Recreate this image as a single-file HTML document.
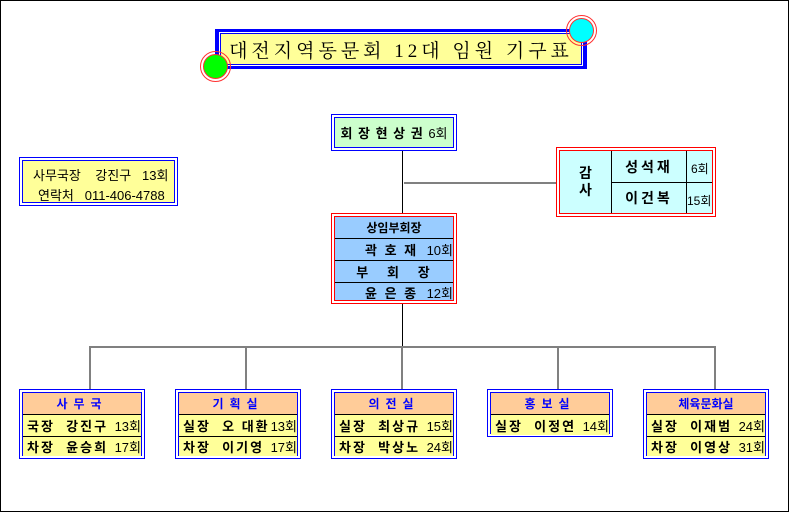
<!DOCTYPE html>
<html><head><meta charset="utf-8"><style>
*{margin:0;padding:0;box-sizing:border-box}
body{width:789px;height:512px;background:#fff;position:relative;overflow:hidden;font-family:"Liberation Sans","Noto Sans CJK KR","NanumGothic",sans-serif;color:#000}
.a{position:absolute}
.frame{left:0;top:0;width:789px;height:512px;border:1px solid #000}
.dbl{position:absolute;border:1px solid;padding:2px}
.dbl>.in{border:1px solid;width:100%;height:100%;position:relative}
.ln{position:absolute;background:#000}
.gl{position:absolute;background:#808080}
.row{position:absolute;left:0;right:0;display:flex;align-items:center;font-size:13px;font-weight:bold;white-space:nowrap;letter-spacing:2px}
.hd{background:#ffcc99;color:#0000ff;justify-content:center;letter-spacing:6px;font-size:12px}
.y{background:#ffff99;border-top:1px solid #000;padding-left:4px}
.n{font-weight:normal;font-size:13px;margin-left:auto;letter-spacing:0}
.circ{position:absolute;border-radius:50%;border:1px solid #ff3030;padding:2px}
.circ>div{width:100%;height:100%;border-radius:50%;border:1px solid #ff3030}
</style></head><body>
<div class="a frame"></div>

<div class="a" style="left:215px;top:29px;width:372px;height:40px;background:#0000ff;"></div>
<div class="a" style="left:219px;top:32px;width:364px;height:34px;background:#fff;"></div>
<div class="a" style="left:220px;top:33px;width:362px;height:32px;background:#ffff99;border:1px solid #0000ff;display:flex;align-items:center;justify-content:center;font-size:19px;letter-spacing:4px;font-family:'Liberation Serif','Noto Serif CJK SC','Noto Sans CJK KR',serif">대전지역동문회 12대 임원 기구표</div>
<div class="circ" style="left:200px;top:51px;width:31px;height:31px"><div style="background:#00ff00"></div></div>
<div class="circ" style="left:566px;top:15px;width:31px;height:31px"><div style="background:#00ffff"></div></div>

<div class="dbl" style="left:19px;top:157px;width:159px;height:49px;border-color:#0000ff">
<div class="in" style="border-color:#0000ff;background:#ffff99;font-size:13px">
<div class="a" style="left:10px;top:4px;white-space:nowrap">사무국장&nbsp;&nbsp;&nbsp;&nbsp;강진구&nbsp;&nbsp;&nbsp;13회</div>
<div class="a" style="left:15px;top:24px;white-space:nowrap">연락처&nbsp;&nbsp;&nbsp;011-406-4788</div>
</div></div>

<div class="ln" style="left:402px;top:150px;width:1px;height:64px"></div>
<div class="gl" style="left:404px;top:182px;width:152px;height:2px"></div>
<div class="ln" style="left:402px;top:304px;width:1px;height:43px"></div>
<div class="gl" style="left:89px;top:346px;width:627px;height:2px"></div>
<div class="gl" style="left:89px;top:346px;width:2px;height:44px"></div>
<div class="gl" style="left:245px;top:346px;width:2px;height:44px"></div>
<div class="gl" style="left:401px;top:346px;width:2px;height:44px"></div>
<div class="gl" style="left:557px;top:346px;width:2px;height:44px"></div>
<div class="gl" style="left:714px;top:346px;width:2px;height:44px"></div>

<div class="dbl" style="left:331px;top:114px;width:126px;height:37px;border-color:#0000ff">
<div class="in" style="border-color:#0000ff;background:#ccffcc;display:flex;align-items:center;justify-content:center;font-size:13px;font-weight:bold;white-space:nowrap;letter-spacing:1px">회&nbsp;장&nbsp;현&nbsp;상&nbsp;권&nbsp;<span style="font-weight:normal;font-size:13px;letter-spacing:0">6회</span></div></div>

<div class="dbl" style="left:556px;top:147px;width:160px;height:70px;border-color:#ff0000">
<div class="in" style="border-color:#ff0000;background:#ccffff;font-size:14px;font-weight:bold">
<div class="a" style="left:0;top:0;width:51px;height:62px;display:flex;align-items:center;justify-content:center;text-align:center;line-height:17px">감<br>사</div>
<div class="ln" style="left:51px;top:0;width:1px;height:62px"></div>
<div class="ln" style="left:126px;top:0;width:1px;height:62px"></div>
<div class="ln" style="left:52px;top:31px;width:100px;height:1px"></div>
<div class="a" style="left:52px;top:0;width:74px;height:31px;display:flex;align-items:center;justify-content:center;letter-spacing:3px">성석재</div>
<div class="a" style="left:52px;top:32px;width:74px;height:30px;display:flex;align-items:center;justify-content:center;letter-spacing:3px">이건복</div>
<div class="a" style="left:131px;top:9px;font-size:12px;font-weight:normal;white-space:nowrap">6회</div>
<div class="a" style="left:127px;top:41px;font-size:12px;font-weight:normal;white-space:nowrap">15회</div>
</div></div>

<div class="dbl" style="left:331px;top:213px;width:126px;height:91px;border-color:#ff0000">
<div class="in" style="border-color:#ff0000;background:#99ccff">
<div class="row" style="top:0;height:21px;justify-content:center;font-size:12px;letter-spacing:0">상임부회장</div>
<div class="row" style="top:21px;height:22px;border-top:1px solid #000;padding-left:30px">곽&nbsp;호&nbsp;재<span class="n">10회</span></div>
<div class="row" style="top:43px;height:22px;border-top:1px solid #000;justify-content:center">부&nbsp;&nbsp;&nbsp;회&nbsp;&nbsp;&nbsp;장</div>
<div class="row" style="top:65px;height:20px;border-top:1px solid #000;padding-left:30px">윤&nbsp;은&nbsp;종<span class="n">12회</span></div>
</div></div>

<div class="dbl" style="left:19px;top:389px;width:126px;height:70px;border-color:#0000ff">
<div class="in" style="border-color:#0000ff;background:#ffff99">
<div class="row hd" style="top:0;height:21px">사무국</div>
<div class="row y" style="top:21px;height:22px">국장&nbsp;&nbsp;강진구<span class="n">13회</span></div>
<div class="row y" style="top:43px;height:20px">차장&nbsp;&nbsp;윤승희<span class="n">17회</span></div>
</div></div>

<div class="dbl" style="left:175px;top:389px;width:126px;height:70px;border-color:#0000ff">
<div class="in" style="border-color:#0000ff;background:#ffff99">
<div class="row hd" style="top:0;height:21px">기획실</div>
<div class="row y" style="top:21px;height:22px">실장&nbsp;&nbsp;오 대환<span class="n">13회</span></div>
<div class="row y" style="top:43px;height:20px">차장&nbsp;&nbsp;이기영<span class="n">17회</span></div>
</div></div>

<div class="dbl" style="left:331px;top:389px;width:126px;height:70px;border-color:#0000ff">
<div class="in" style="border-color:#0000ff;background:#ffff99">
<div class="row hd" style="top:0;height:21px">의전실</div>
<div class="row y" style="top:21px;height:22px">실장&nbsp;&nbsp;최상규<span class="n">15회</span></div>
<div class="row y" style="top:43px;height:20px">차장&nbsp;&nbsp;박상노<span class="n">24회</span></div>
</div></div>

<div class="dbl" style="left:487px;top:389px;width:126px;height:48px;border-color:#0000ff">
<div class="in" style="border-color:#0000ff;background:#ffff99">
<div class="row hd" style="top:0;height:21px">홍보실</div>
<div class="row y" style="top:21px;height:21px">실장&nbsp;&nbsp;이정연<span class="n">14회</span></div>
</div></div>

<div class="dbl" style="left:643px;top:389px;width:126px;height:70px;border-color:#0000ff">
<div class="in" style="border-color:#0000ff;background:#ffff99">
<div class="row hd" style="top:0;height:21px;letter-spacing:0">체육문화실</div>
<div class="row y" style="top:21px;height:22px">실장&nbsp;&nbsp;이재범<span class="n">24회</span></div>
<div class="row y" style="top:43px;height:20px">차장&nbsp;&nbsp;이영상<span class="n">31회</span></div>
</div></div>
</body></html>
